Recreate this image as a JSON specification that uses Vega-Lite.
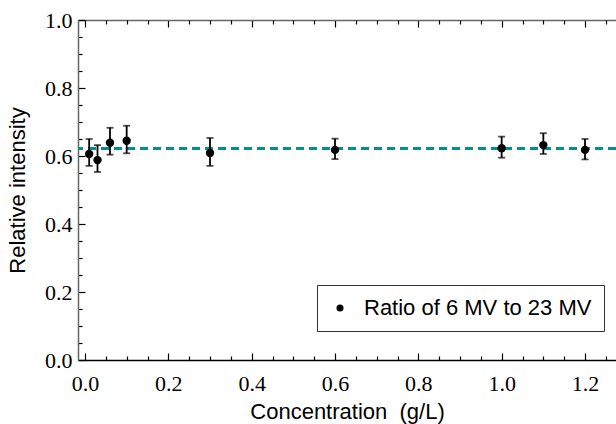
{
  "$schema": "https://vega.github.io/schema/vega-lite/v6.json",
  "width": 538,
  "height": 340,
  "autosize": {"type": "none"},
  "padding": {"left": 78, "top": 20, "right": 0, "bottom": 64},
  "background": "white",
  "config": {
    "view": {"stroke": null},
    "axis": {"grid": false, "tickColor": "black", "tickWidth": 1.2, "domainWidth": 1.5}
  },
  "data": {
    "values": [
      {"conc": 0.01, "ratio": 0.606, "lo": 0.571, "hi": 0.650, "series": "Ratio of 6 MV to 23 MV"},
      {"conc": 0.03, "ratio": 0.588, "lo": 0.553, "hi": 0.632, "series": "Ratio of 6 MV to 23 MV"},
      {"conc": 0.06, "ratio": 0.639, "lo": 0.604, "hi": 0.683, "series": "Ratio of 6 MV to 23 MV"},
      {"conc": 0.10, "ratio": 0.645, "lo": 0.608, "hi": 0.689, "series": "Ratio of 6 MV to 23 MV"},
      {"conc": 0.30, "ratio": 0.609, "lo": 0.571, "hi": 0.653, "series": "Ratio of 6 MV to 23 MV"},
      {"conc": 0.60, "ratio": 0.618, "lo": 0.591, "hi": 0.651, "series": "Ratio of 6 MV to 23 MV"},
      {"conc": 1.00, "ratio": 0.623, "lo": 0.595, "hi": 0.657, "series": "Ratio of 6 MV to 23 MV"},
      {"conc": 1.10, "ratio": 0.632, "lo": 0.606, "hi": 0.667, "series": "Ratio of 6 MV to 23 MV"},
      {"conc": 1.20, "ratio": 0.618, "lo": 0.590, "hi": 0.650, "series": "Ratio of 6 MV to 23 MV"}
    ]
  },
  "resolve": {"axis": {"x": "independent", "y": "independent"}},
  "layer": [
    {
      "mark": {"type": "rule", "color": "#009090", "strokeDash": [8, 5], "strokeWidth": 2},
      "encoding": {
        "y": {
          "datum": 0.622,
          "type": "quantitative",
          "scale": {"domain": [0, 1], "nice": false},
          "axis": {
            "orient": "left",
            "values": [0.05, 0.1, 0.15, 0.25, 0.3, 0.35, 0.45, 0.5, 0.55, 0.65, 0.7, 0.75, 0.85, 0.9, 0.95],
            "labels": false,
            "domain": false,
            "tickSize": -4,
            "tickColor": "black",
            "title": null
          }
        }
      }
    },
    {
      "mark": {"type": "errorbar", "ticks": {"size": 7, "thickness": 1.8, "color": "black"}, "rule": {"strokeWidth": 1.8, "color": "black"}},
      "encoding": {
        "x": {
          "field": "conc",
          "type": "quantitative",
          "scale": {"domain": [-0.0168, 1.2744], "nice": false},
          "axis": {
            "orient": "top",
            "values": [0, 0.2, 0.4, 0.6, 0.8, 1.0, 1.2],
            "labels": false,
            "tickSize": -7,
            "tickColor": "black",
            "title": null,
            "domain": true,
            "domainColor": "#666"
          }
        },
        "y": {"field": "lo", "type": "quantitative", "axis": null},
        "y2": {"field": "hi"}
      }
    },
    {
      "mark": {"type": "point", "opacity": 0},
      "encoding": {
        "x": {
          "field": "conc",
          "type": "quantitative",
          "axis": {
            "orient": "top",
            "values": [0.05, 0.1, 0.15, 0.25, 0.3, 0.35, 0.45, 0.5, 0.55, 0.65, 0.7, 0.75, 0.85, 0.9, 0.95, 1.05, 1.1, 1.15, 1.25],
            "labels": false,
            "domain": false,
            "tickSize": -4,
            "tickColor": "black",
            "title": null
          }
        },
        "y": {"field": "ratio", "type": "quantitative", "axis": null}
      }
    },
    {
      "mark": {"type": "point", "opacity": 0},
      "encoding": {
        "x": {
          "field": "conc",
          "type": "quantitative",
          "axis": {
            "orient": "bottom",
            "values": [0.05, 0.1, 0.15, 0.25, 0.3, 0.35, 0.45, 0.5, 0.55, 0.65, 0.7, 0.75, 0.85, 0.9, 0.95, 1.05, 1.1, 1.15, 1.25],
            "labels": false,
            "domain": false,
            "tickSize": -4,
            "tickColor": "black",
            "title": null
          }
        },
        "y": {"field": "ratio", "type": "quantitative", "axis": null}
      }
    },
    {
      "mark": {"type": "circle", "size": 70, "opacity": 1},
      "encoding": {
        "x": {
          "field": "conc",
          "type": "quantitative",
          "title": "Concentration\u00a0 (g/L)",
          "axis": {
            "orient": "bottom",
            "values": [0, 0.2, 0.4, 0.6, 0.8, 1.0, 1.2],
            "format": ".1f",
            "tickSize": -7,
            "tickColor": "black",
            "labelPadding": 20,
            "labelFont": "Liberation Serif",
            "labelFontSize": 22,
            "labelColor": "black",
            "titleFont": "Liberation Sans",
            "titleFontSize": 22,
            "titleFontWeight": "normal",
            "titleColor": "black",
            "titlePadding": 7,
            "domainColor": "black"
          }
        },
        "y": {
          "field": "ratio",
          "type": "quantitative",
          "title": "Relative intensity",
          "axis": {
            "orient": "left",
            "values": [0, 0.2, 0.4, 0.6, 0.8, 1.0],
            "format": ".1f",
            "tickSize": -7,
            "tickColor": "black",
            "labelPadding": 13,
            "labelFont": "Liberation Serif",
            "labelFontSize": 22,
            "labelColor": "black",
            "titleFont": "Liberation Sans",
            "titleFontSize": 22,
            "titleFontWeight": "normal",
            "titleColor": "black",
            "titlePadding": 15,
            "domainColor": "#666"
          }
        },
        "color": {
          "field": "series",
          "type": "nominal",
          "scale": {"range": ["black"]},
          "legend": {
            "orient": "none",
            "legendX": 239,
            "legendY": 265,
            "title": null,
            "strokeColor": "#333",
            "fillColor": "white",
            "padding": 12,
            "symbolType": "circle",
            "symbolSize": 50,
            "symbolOffset": 0,
            "labelOffset": 13,
            "labelLimit": 400,
            "labelFont": "Liberation Sans",
            "labelFontSize": 22,
            "labelColor": "black",
            "cornerRadius": 0
          }
        }
      }
    }
  ]
}
